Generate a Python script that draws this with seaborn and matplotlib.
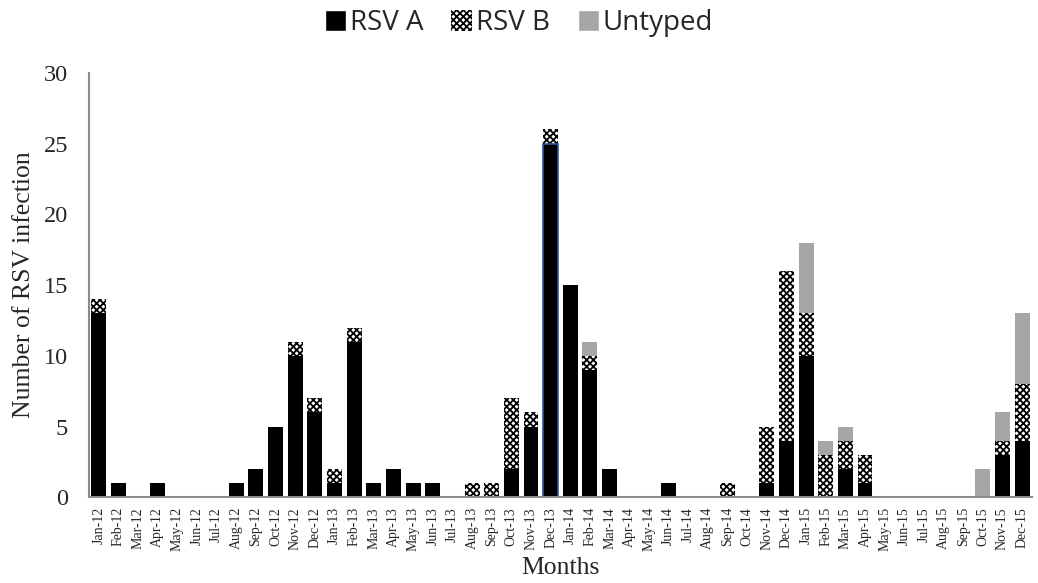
import numpy as np
import pandas as pd
import matplotlib
matplotlib.use("Agg")
import matplotlib.pyplot as plt
import seaborn as sns
from matplotlib.patches import Patch

months = [f"{m}-{y}" for y in ["12", "13", "14", "15"]
          for m in ["Jan", "Feb", "Mar", "Apr", "May", "Jun",
                    "Jul", "Aug", "Sep", "Oct", "Nov", "Dec"]]

rsv_a = [13, 1, 0, 1, 0, 0, 0, 1, 2, 5, 10, 6,
         1, 11, 1, 2, 1, 1, 0, 0, 0, 2, 5, 25,
         15, 9, 2, 0, 0, 1, 0, 0, 0, 0, 1, 4,
         10, 0, 2, 1, 0, 0, 0, 0, 0, 0, 3, 4]
rsv_b = [1, 0, 0, 0, 0, 0, 0, 0, 0, 0, 1, 1,
         1, 1, 0, 0, 0, 0, 0, 1, 1, 5, 1, 1,
         0, 1, 0, 0, 0, 0, 0, 0, 1, 0, 4, 12,
         3, 3, 2, 2, 0, 0, 0, 0, 0, 0, 1, 4]
untyped = [0, 0, 0, 0, 0, 0, 0, 0, 0, 0, 0, 0,
           0, 0, 0, 0, 0, 0, 0, 0, 0, 0, 0, 0,
           0, 1, 0, 0, 0, 0, 0, 0, 0, 0, 0, 0,
           5, 1, 1, 0, 0, 0, 0, 0, 0, 2, 2, 5]

df = pd.DataFrame({"month": months, "A": rsv_a, "B": rsv_b, "U": untyped})
df["AB"] = df["A"] + df["B"]
df["total"] = df["AB"] + df["U"]

sns.set_style("white")
plt.rcParams["hatch.linewidth"] = 1.3
serif = "Liberation Serif"
b_hatch = "xxxxx"

fig = plt.figure(figsize=(10.38, 5.83), dpi=100)
ax = fig.add_axes([0.0857, 0.147, 0.9085, 0.728])

bw = 0.76
# stacked by overlaying cumulative totals
sns.barplot(data=df, x="month", y="total", color="#a6a6a6", saturation=1,
            width=bw, linewidth=0, ax=ax)
sns.barplot(data=df, x="month", y="AB", color="white", saturation=1,
            width=bw, linewidth=0, ax=ax)
for p in ax.containers[1]:
    p.set_hatch(b_hatch)
    p.set_edgecolor("black")
sns.barplot(data=df, x="month", y="A", color="black", saturation=1,
            width=bw, linewidth=0, ax=ax)
# Dec-13 has a blue outline in the original
dec13 = ax.containers[2][months.index("Dec-13")]
dec13.set_edgecolor("#2f5597")
dec13.set_linewidth(1.2)

ax.set_ylim(0, 30)
ax.set_xlim(-0.5, len(months) - 0.5)
ax.set_yticks(range(0, 31, 5))
ax.tick_params(axis="y", labelsize=17.5, length=0, pad=15)
ax.tick_params(axis="x", labelsize=10, length=0, rotation=90, pad=7)
for lbl in ax.get_xticklabels() + ax.get_yticklabels():
    lbl.set_fontfamily(serif)

ax.set_ylabel("Number of RSV infection", fontsize=18.5, family=serif, labelpad=6)
ax.set_xlabel("Months", fontsize=18.5, family=serif, labelpad=4)

sns.despine(ax=ax)
for s in ["left", "bottom"]:
    ax.spines[s].set_color("#8c8c8c")
    ax.spines[s].set_linewidth(1.5)

handles = [Patch(facecolor="black", label="RSV A"),
           Patch(facecolor="white", edgecolor="black", hatch=b_hatch, linewidth=0, label="RSV B"),
           Patch(facecolor="#a6a6a6", label="Untyped")]
fig.legend(handles=handles, loc="upper center", bbox_to_anchor=(0.5, 1.027), ncol=3,
           frameon=False, handlelength=0.75, handleheight=0.75,
           handletextpad=0.15, columnspacing=1.0, prop={"family": "Open Sans", "size": 20})

fig.savefig("out.png", dpi=100)
